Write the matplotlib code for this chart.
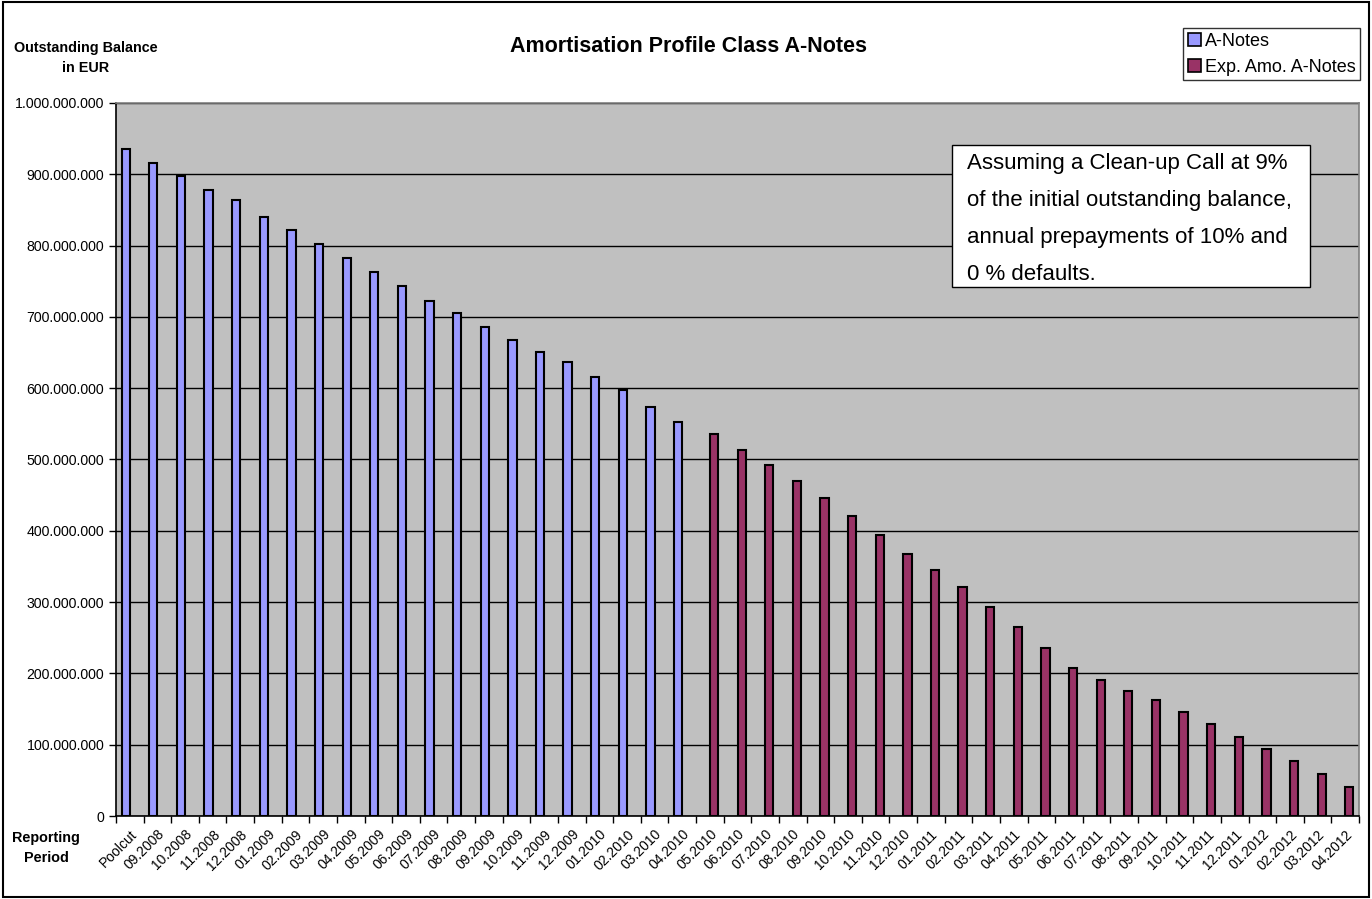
import matplotlib.pyplot as plt
import numpy
from matplotlib.patches import Rectangle
from matplotlib.ticker import FuncFormatter, MultipleLocator

plt.rcParams['font.family'] = ['Liberation Sans', 'DejaVu Sans']

periods = ["Poolcut", "09.2008", "10.2008", "11.2008", "12.2008",
           "01.2009", "02.2009", "03.2009", "04.2009", "05.2009", "06.2009",
           "07.2009", "08.2009", "09.2009", "10.2009", "11.2009", "12.2009",
           "01.2010", "02.2010", "03.2010", "04.2010", "05.2010", "06.2010",
           "07.2010", "08.2010", "09.2010", "10.2010", "11.2010", "12.2010",
           "01.2011", "02.2011", "03.2011", "04.2011", "05.2011", "06.2011",
           "07.2011", "08.2011", "09.2011", "10.2011", "11.2011", "12.2011",
           "01.2012", "02.2012", "03.2012", "04.2012"]

# actual A-Notes balance (Poolcut .. 04.2010), in EUR
a_notes = [936e6, 916e6, 897e6, 878e6, 864e6, 840e6, 822e6, 802e6, 782e6,
           763e6, 744e6, 723e6, 706e6, 686e6, 668e6, 651e6, 637e6, 616e6,
           597e6, 574e6, 553e6]

# expected amortisation (05.2010 .. 04.2012)
exp_amo = [536e6, 514e6, 492e6, 470e6, 446e6, 421e6, 394e6, 367e6, 345e6,
           321e6, 293e6, 265e6, 236e6, 207e6, 191e6, 176e6, 162e6, 146e6,
           129e6, 111e6, 94e6, 77e6, 59e6, 41e6]

note_text = ("Assuming a Clean-up Call at 9%\n"
             "of the initial outstanding balance,\n"
             "annual prepayments of 10% and\n"
             "0 % defaults.")


def fmt_eur(v, pos):
    if v == 0:
        return "0"
    return "{:,.0f}".format(v).replace(",", ".")


fig = plt.figure(figsize=(13.72, 8.99), dpi=100)
ax = fig.add_axes([116 / 1372, 1 - 816 / 899, (1359 - 116) / 1372, (816 - 103) / 899])
ax.set_facecolor("#C0C0C0")

x = numpy.arange(len(periods))
w = 0.3
xa = x[:len(a_notes)]
xe = x[len(a_notes):]
ax.bar(xa - w / 2, a_notes, width=w, color="#9999FF", edgecolor="black",
       linewidth=1.5, label="A-Notes", zorder=3)
ax.bar(xe + w / 2, exp_amo, width=w, color="#993366", edgecolor="black",
       linewidth=1.5, label="Exp. Amo. A-Notes", zorder=3)

ax.set_xlim(-0.5, len(periods) - 0.5)
ax.set_ylim(0, 1e9)
ax.yaxis.set_major_locator(MultipleLocator(1e8))
ax.yaxis.set_major_formatter(FuncFormatter(fmt_eur))
ax.grid(axis="y", color="black", linewidth=1, zorder=1)

ax.set_xticks(x)
ax.set_xticklabels(periods, rotation=45, ha="right", rotation_mode="anchor",
                   fontsize=10)
ax.set_xticks(numpy.arange(-0.5, len(periods), 1), minor=True)
ax.tick_params(axis="x", which="major", length=0, pad=8)
ax.tick_params(axis="x", which="minor", length=5, width=1, color="black")
ax.tick_params(axis="y", length=5, width=1, labelsize=10.2, pad=3.5)

for s in ["left", "bottom"]:
    ax.spines[s].set_color("black")
    ax.spines[s].set_linewidth(1.2)
for s in ["top", "right"]:
    ax.spines[s].set_color("#808080")
    ax.spines[s].set_linewidth(1.2)

fig.text(688 / 1372, 1 - 47 / 899, "Amortisation Profile Class A-Notes",
         ha="center", va="center", fontsize=15.5, fontweight="bold")
fig.text(86 / 1372, 1 - 58 / 899, "Outstanding Balance\nin EUR", ha="center",
         va="center", fontsize=10.4, fontweight="bold", linespacing=1.6)
fig.text(46 / 1372, 1 - 848 / 899, "Reporting\nPeriod", ha="center",
         va="center", fontsize=10.4, fontweight="bold", linespacing=1.5)

# note box drawn separately from its text
ax.add_patch(Rectangle((0.6726, 0.7419), 0.2880, 0.1992, transform=ax.transAxes,
                       facecolor="white", edgecolor="black", linewidth=1, zorder=5))
ax.text(0.685, 0.838, note_text, transform=ax.transAxes, ha="left", va="center",
        fontsize=16, linespacing=2.0, zorder=6)

leg = fig.legend(loc="upper right", bbox_to_anchor=(1360 / 1372, 1 - 28 / 899),
                 fontsize=13, frameon=True, fancybox=False, handlelength=0.75,
                 handleheight=0.75, handletextpad=0.2, borderpad=0.25,
                 labelspacing=0.5, borderaxespad=0)
leg.get_frame().set_edgecolor("black")
leg.get_frame().set_linewidth(1)
for h in leg.legend_handles:
    h.set_linewidth(1.2)

fig.patches.append(Rectangle((0.002, 0.002), 0.996, 0.996, transform=fig.transFigure,
                             fill=False, edgecolor="black", linewidth=1.5))

fig.savefig("out.png", dpi=100)
